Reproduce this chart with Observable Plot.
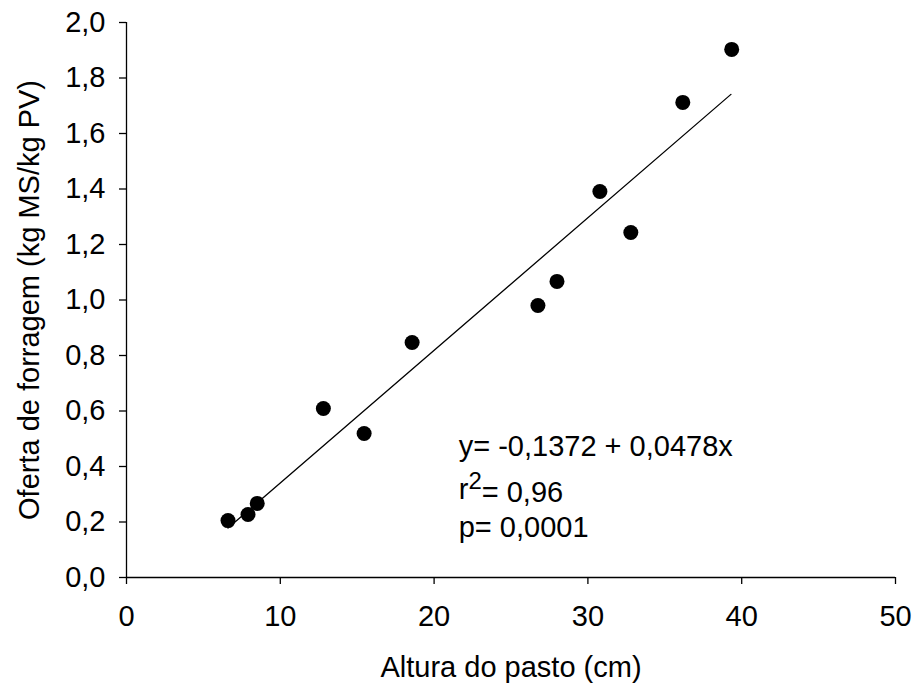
<!DOCTYPE html>
<html>
<head>
<meta charset="utf-8">
<script src="https://cdn.jsdelivr.net/npm/d3@7"></script>
<script src="https://cdn.jsdelivr.net/npm/@observablehq/plot@0.6"></script>
<style>
  html, body { margin: 0; padding: 0; background: #fff; }
  #chart svg { display: block; }
</style>
</head>
<body>
<div id="chart"></div>
<script>
// Observed points: pasture height (cm) vs forage allowance (kg MS/kg PV)
const altura = [6.6, 7.9, 8.5, 12.8, 15.45, 18.57, 26.75, 27.99, 30.78, 32.79, 36.17, 39.35];
const oferta = [0.205, 0.227, 0.267, 0.609, 0.519, 0.847, 0.980, 1.067, 1.391, 1.243, 1.712, 1.903];

// Fitted regression line endpoints
const fitX = [6.6, 39.3];
const fitY = [0.178, 1.741];

// Tick values
const xTicks = [0, 10, 20, 30, 40, 50];
const yTicks = [0, 0.2, 0.4, 0.6, 0.8, 1.0, 1.2, 1.4, 1.6, 1.8, 2.0];

// Annotation text lines and their anchor in data units
const annLines = ["y= -0,1372 + 0,0478x", "r2= 0,96", "p= 0,0001"];
const annX = [21.6, 21.6, 21.6];
const annY = [0.47, 0.315, 0.18];

const points = altura.map((x, i) => ({x, y: oferta[i]}));
const fit = fitX.map((x, i) => ({x, y: fitY[i]}));
const ann = annLines.map((t, i) => ({t, x: annX[i], y: annY[i]}));

const fmt = d => d.toFixed(1).replace(".", ",");
const FONT = "Liberation Sans, Arial, sans-serif";

const chart = Plot.plot({
  width: 916,
  height: 689,
  marginLeft: 126,
  marginRight: 21,
  marginTop: 22,
  marginBottom: 112,
  style: {fontFamily: FONT, fontSize: "29px", color: "#000", background: "#fff"},
  x: {domain: [0, 50]},
  y: {domain: [0, 2]},
  marks: [
    Plot.axisX({ticks: xTicks, tickSize: 7, tickPadding: 21, fontSize: 29, label: null, stroke: "#000", strokeWidth: 1.3}),
    Plot.axisY({ticks: yTicks, tickSize: 7, tickPadding: 14, fontSize: 29, tickFormat: fmt, label: null, stroke: "#000", strokeWidth: 1.3}),
    Plot.ruleY([0], {stroke: "#000", strokeWidth: 1.3}),
    Plot.ruleX([0], {stroke: "#000", strokeWidth: 1.3}),
    Plot.line(fit, {x: "x", y: "y", stroke: "#000", strokeWidth: 1.3}),
    Plot.dot(points, {x: "x", y: "y", r: 7.5, fill: "#000", stroke: "none"}),
    Plot.text(ann, {x: "x", y: "y", text: "t", textAnchor: "start", fontSize: 29, fill: "#000"}),
    Plot.text(["Altura do pasto (cm)"], {frameAnchor: "bottom", lineAnchor: "middle", dy: 90, fontSize: 29, fill: "#000"}),
    Plot.text(["Oferta de forragem (kg MS/kg PV)"], {frameAnchor: "left", textAnchor: "middle", lineAnchor: "middle", dx: -97, rotate: -90, fontSize: 29, fill: "#000"})
  ]
});

document.getElementById("chart").appendChild(chart);

// Superscript the "2" in r2
d3.select(chart).selectAll("text").each(function() {
  const el = d3.select(this);
  if (el.text() === "r2= 0,96") {
    el.text(null);
    el.append("tspan").text("r");
    el.append("tspan").attr("dy", "-0.45em").attr("font-size", "24px").text("2");
    el.append("tspan").attr("dy", "0.45em").text("= 0,96");
  }
});
</script>
</body>
</html>
